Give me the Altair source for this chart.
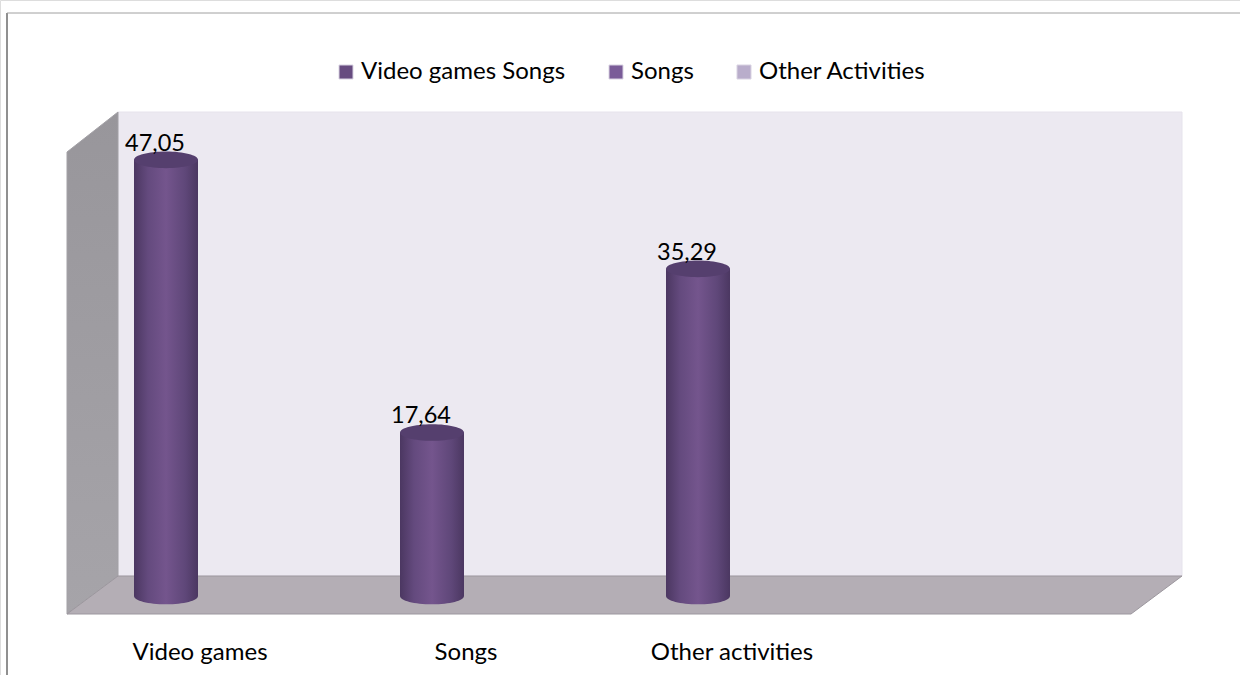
import altair as alt
import pandas as pd

# Chart values
categories = ["Video games", "Songs", "Other activities", " "]
shown_categories = ["Video games", "Songs", "Other activities"]
shares = [47.05, 17.64, 35.29]
legend_names = ["Video games Songs", "Songs", "Other Activities"]
legend_colors = ["#674c80", "#7a5c98", "#b9adcb"]

# Box geometry of the 3D frame, in page units
back_wall_x = [118, 1182]
back_wall_top = [112, 112]
back_wall_bottom = [576, 576]
side_wall_x = [67, 118]
side_wall_top = [152, 112]
side_wall_bottom = [614, 576]
floor_x = [67, 118, 1131, 1182]
floor_top = [614, 576, 576, 576]
floor_bottom = [614, 614, 614, 576]

W, H = 1240, 675
FONT = "Lato"
TEXT_SIZE = 24

# Page-unit scales for the box, value scales for the columns
page_x = alt.Scale(domain=[0, W], range=[0, W])
page_y = alt.Scale(domain=[H, 0], range=[H, 0])
value_y = alt.Scale(domain=[-8.52, 64.29], range=[H, 0], nice=False, zero=False)


def band(lo, hi):
    return alt.Scale(type="band", domain=categories, range=[lo, hi],
                     paddingInner=0, paddingOuter=0)


label_band = band(67, 1131)
column_band = band(33, 1097)
value_band = band(22, 1086)

bars = pd.DataFrame({"category": shown_categories, "share": shares})
bars["label"] = [f"{v:.2f}".replace(".", ",") for v in shares]
bars["base"] = [0.0] * len(shares)


def plane(xs, tops, bottoms, fill, stroke):
    frame = pd.DataFrame({"x": xs, "top": tops, "bottom": bottoms})
    return alt.Chart(frame).mark_area(
        color=fill, stroke=stroke, strokeWidth=1, opacity=1
    ).encode(
        x=alt.X("x:Q", scale=page_x, axis=None),
        y=alt.Y("top:Q", scale=page_y, axis=None, stack=None),
        y2="bottom:Q",
    )


def shade(edge, mid):
    return alt.Gradient(
        gradient="linear", x1=0, x2=1, y1=0, y2=0,
        stops=[
            alt.GradientStop(color=edge, offset=0),
            alt.GradientStop(color="#644a7e", offset=0.22),
            alt.GradientStop(color=mid, offset=0.5),
            alt.GradientStop(color="#5f4779", offset=0.8),
            alt.GradientStop(color=edge, offset=1),
        ],
    )


ELLIPSE = "M-1,0 A1,0.26,0,1,1,1,0 A1,0.26,0,1,1,-1,0 Z"

back_wall = plane(back_wall_x, back_wall_top, back_wall_bottom, "#ece9f1", "#e6e3ec")
side_wall = plane(side_wall_x, side_wall_top, side_wall_bottom,
                  alt.Gradient(gradient="linear", x1=0, x2=0, y1=0, y2=1,
                               stops=[alt.GradientStop(color="#98969b", offset=0),
                                      alt.GradientStop(color="#a6a4a9", offset=1)]),
                  "#a3a1a6")
floor = plane(floor_x, floor_top, floor_bottom, "#b4aeb5", "#9c979e")

column_x = alt.X("category:N", scale=column_band, axis=None)

bottoms = alt.Chart(bars).mark_point(
    shape=ELLIPSE, filled=True, size=4096, opacity=1,
    fill=shade("#4b3761", "#74558d"),
).encode(x=column_x, y=alt.Y("base:Q", scale=value_y, axis=None))

columns = alt.Chart(bars).mark_bar(
    width=64, fill=shade("#4b3761", "#74558d"),
).encode(
    x=column_x,
    y=alt.Y("share:Q", scale=value_y, axis=None),
    y2="base:Q",
)

caps = alt.Chart(bars).mark_point(
    shape=ELLIPSE, filled=True, size=4096, opacity=1, fill="#553f6e",
).encode(x=column_x, y=alt.Y("share:Q", scale=value_y, axis=None))

value_labels = alt.Chart(bars).mark_text(
    font=FONT, fontSize=23.5, color="#000000", dy=-16,
).encode(
    x=alt.X("category:N", scale=value_band, axis=None),
    y=alt.Y("share:Q", scale=value_y, axis=None),
    text="label:N",
)

category_axis = alt.Chart(bars).mark_point(opacity=0).encode(
    x=alt.X("category:N", scale=label_band, title=None,
            axis=alt.Axis(domain=False, ticks=False, grid=False, offset=-35,
                          labelAngle=0, labelFont=FONT, labelFontSize=TEXT_SIZE,
                          labelColor="#000000", labelPadding=0)),
    y=alt.value(0),
)

legend_layer = alt.Chart(pd.DataFrame({"series": legend_names})).mark_square(opacity=0).encode(
    x=alt.value(0),
    y=alt.value(0),
    color=alt.Color(
        "series:N",
        scale=alt.Scale(domain=legend_names, range=legend_colors),
        legend=alt.Legend(
            orient="none", legendX=334, legendY=60, direction="horizontal",
            columns=3, columnPadding=38, title=None, padding=0,
            symbolType="square", symbolSize=196, symbolOpacity=1,
            symbolStrokeColor="#d9d3e2", symbolStrokeWidth=1,
            labelFont=FONT, labelFontSize=TEXT_SIZE, labelColor="#000000",
            labelOffset=3, labelLimit=400,
        ),
    ),
)

# Thin frame around the chart area
frame_left = alt.Chart(pd.DataFrame({"k": [0]})).mark_rule(color="#909090", strokeWidth=2).encode(
    x=alt.value(7), y=alt.value(13), y2=alt.value(H)
)
frame_top = alt.Chart(pd.DataFrame({"k": [0]})).mark_rule(color="#a0a0a0", strokeWidth=1).encode(
    x=alt.value(7), x2=alt.value(W), y=alt.value(13)
)

chart = (
    alt.layer(
        frame_left, frame_top, back_wall, side_wall, floor,
        bottoms, columns, caps, value_labels, category_axis, legend_layer,
    )
    .resolve_scale(x="independent", y="independent", color="independent")
    .properties(width=W, height=H, padding=0, autosize=alt.AutoSizeParams(type="none"))
    .configure_view(stroke=None)
    .configure(background="#ffffff")
)

chart.save("out.html", embed_options={"renderer": "svg", "actions": False})
